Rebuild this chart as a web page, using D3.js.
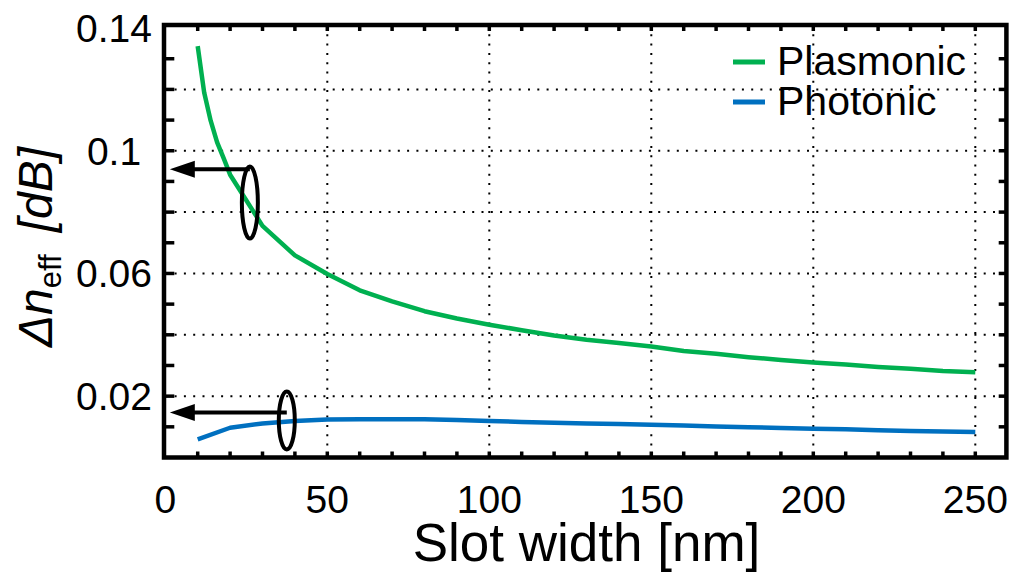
<!DOCTYPE html>
<html><head><meta charset="utf-8">
<script src="https://cdn.jsdelivr.net/npm/d3@7"></script>
<style>body{margin:0;background:#fff}svg{display:block}text{font-family:"Liberation Sans",Arial,Helvetica,sans-serif;fill:#000}</style>
</head><body>
<svg id="c" width="1015" height="572"></svg>
<script>
const slotWidth = [10,20,30,40,50,60,70,80,90,100,110,120,130,140,150,160,170,180,190,200,210,220,230,240,250];
const plasmonicDetail = [[10,0.1341],[12,0.119],[14,0.1098],[16,0.1027],[18,0.0976]];
const plasmonic = [0.0922,0.0755,0.0659,0.0598,0.0545,0.0509,0.0477,0.0453,0.0433,0.0415,0.0398,0.0384,0.0373,0.0362,0.0347,0.0338,0.0327,0.0318,0.031,0.0303,0.0295,0.0289,0.0282,0.0278];
const photonic = [0.0059,0.0097,0.0111,0.0119,0.0124,0.0125,0.0125,0.0125,0.0122,0.0119,0.0116,0.0113,0.0111,0.0109,0.0107,0.0104,0.0101,0.0099,0.0096,0.0094,0.0092,0.0089,0.0086,0.0085,0.0083];
const xTickLabels = [0,50,100,150,200,250];
const yTickLabels = [0.02,0.06,0.1,0.14];
const yTickLabelText = ["0.02","0.06","0.1","0.14"];
const seriesNames = ["Plasmonic","Photonic"];
const seriesColors = ["#00b050","#0070c0"];
// annotation ellipses: [centerX, centerY, arrowY] in data units
const markers = [[26.1,0.0831,0.094],[37.5,0.0121,0.0147]];

const svg = d3.select("#c");
const x = d3.scaleLinear().domain([0,260]).range([165.3,1007.7]);
const y = d3.scaleLinear().domain([0,0.141]).range([457.5,25]);
const [X0,X1] = x.range(), [Y0,Y1] = y.range();

// grid
const g = svg.append("g");
g.selectAll(".vg").data([50,100,150,200,250]).join("line")
  .attr("x1",d=>x(d)).attr("x2",d=>x(d)).attr("y1",Y1).attr("y2",Y0)
  .attr("stroke","#000").attr("stroke-width",2).attr("stroke-dasharray","2,7.3");
g.selectAll(".hg").data([0.02,0.04,0.06,0.08,0.1,0.12]).join("line")
  .attr("x1",X0).attr("x2",X1).attr("y1",d=>y(d)).attr("y2",d=>y(d))
  .attr("stroke","#000").attr("stroke-width",2).attr("stroke-dasharray","2,7.3");

// ticks
const xt = d3.range(10,260,10);
g.selectAll(".xtb").data(xt).join("line").attr("x1",d=>x(d)).attr("x2",d=>x(d))
  .attr("y1",Y0).attr("y2",Y0-6).attr("stroke","#000").attr("stroke-width",3.5);
g.selectAll(".xtt").data(xt).join("line").attr("x1",d=>x(d)).attr("x2",d=>x(d))
  .attr("y1",Y1).attr("y2",Y1+6).attr("stroke","#000").attr("stroke-width",3.5);
const yt = d3.range(1,14).map(i=>i*0.01);
g.selectAll(".ytl").data(yt).join("line").attr("x1",X0).attr("x2",X0+9)
  .attr("y1",d=>y(d)).attr("y2",d=>y(d)).attr("stroke","#000").attr("stroke-width",3.5);
g.selectAll(".ytr").data(yt).join("line").attr("x1",X1).attr("x2",X1-9)
  .attr("y1",d=>y(d)).attr("y2",d=>y(d)).attr("stroke","#000").attr("stroke-width",3.5);

// lines
const line = d3.line().x(d=>x(d[0])).y(d=>y(d[1]));
const pData = plasmonicDetail.concat(slotWidth.slice(1).map((s,i)=>[s,plasmonic[i]]));
const phData = slotWidth.map((s,i)=>[s,photonic[i]]);
[pData,phData].forEach((d,i)=>{
  svg.append("path").datum(d).attr("d",line).attr("fill","none")
    .attr("stroke",seriesColors[i]).attr("stroke-width",4.5).attr("stroke-linejoin","round");
});

// frame
svg.append("rect").attr("x",X0-1.3).attr("y",Y1).attr("width",X1-X0).attr("height",Y0-Y1)
  .attr("fill","none").attr("stroke","#000").attr("stroke-width",4.5);

// tick labels
svg.selectAll(".xl").data(xTickLabels).join("text").attr("x",d=>x(d)).attr("y",513)
  .attr("text-anchor","middle").attr("font-size",39).text(d=>d);
svg.selectAll(".yl").data(yTickLabels).join("text").attr("x",114).attr("y",d=>y(d))
  .attr("dy","0.36em").attr("text-anchor","middle").attr("font-size",39).text((d,i)=>yTickLabelText[i]);

// axis titles
svg.append("text").attr("x",(X0+X1)/2).attr("y",561).attr("text-anchor","middle")
  .attr("font-size",53).text("Slot width [nm]");
const yl = svg.append("text").attr("transform","translate(52,247) rotate(-90)")
  .attr("text-anchor","middle").attr("font-size",48);
yl.append("tspan").attr("font-style","italic").text("\u0394n");
yl.append("tspan").attr("font-size",31).attr("dy",9).text("eff");
yl.append("tspan").attr("font-style","italic").attr("dy",-9).attr("dx",22).text("[dB]");

// legend
seriesNames.forEach((n,i)=>{
  const ly = 62 + i*40;
  svg.append("line").attr("x1",733).attr("x2",765).attr("y1",ly).attr("y2",ly)
    .attr("stroke",seriesColors[i]).attr("stroke-width",5);
  svg.append("text").attr("x",777).attr("y",ly+13).attr("font-size",41).text(n);
});

// annotations
const tipX = 1.4;
markers.forEach(m=>{
  const cx = x(m[0]), cy = y(m[1]), ay = y(m[2]);
  const ry = (i=>i)(cy - ay + 4);
  svg.append("ellipse").attr("cx",cx).attr("cy",cy).attr("rx",8).attr("ry",(m===markers[0])?36:29)
    .attr("fill","none").attr("stroke","#000").attr("stroke-width",4);
  svg.append("line").attr("x1",cx).attr("x2",x(tipX)+20).attr("y1",ay).attr("y2",ay)
    .attr("stroke","#000").attr("stroke-width",4);
  const tx = x(tipX);
  svg.append("path").attr("d",`M${tx},${ay} L${tx+25},${ay-8.5} L${tx+25},${ay+8.5} Z`).attr("fill","#000");
});
</script>
</body></html>
